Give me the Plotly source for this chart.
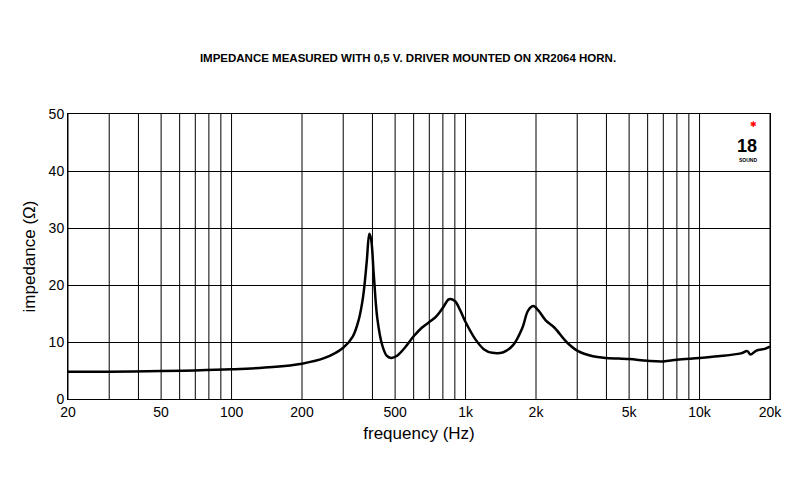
import plotly.graph_objects as go

freq = [20, 30, 50, 70, 100, 150, 200, 250, 300, 330, 350, 365, 378, 388, 395, 405, 420, 440, 460, 480,
        510, 550, 600, 650, 700, 750, 800, 850, 900, 950, 1000, 1100, 1200, 1300, 1450, 1600, 1750, 1850,
        1950, 2050, 2200, 2400, 2700, 3000, 3500, 4000, 5000, 6000, 7000, 8000, 10000, 12000, 15000,
        16000, 16500, 17500, 19000, 20000]
impedance = [4.8, 4.8, 4.9, 5.0, 5.2, 5.6, 6.2, 7.2, 9.0, 11, 14, 18, 24, 29, 28, 22, 14, 9.5, 7.6, 7.2,
             7.6, 9, 11, 12.5, 13.5, 14.5, 16, 17.5, 17.2, 15.5, 13.5, 10.5, 8.7, 8.1, 8.2, 9.5, 12.5, 15.5,
             16.3, 15.5, 13.8, 12.5, 10, 8.5, 7.5, 7.2, 7.0, 6.7, 6.6, 6.9, 7.2, 7.5, 8.0,
             8.4, 7.8, 8.5, 8.8, 9.2]

grid_freqs = [20, 30, 40, 50, 60, 70, 80, 90, 100, 200, 300, 400, 500, 600, 700, 800, 900,
              1000, 2000, 3000, 4000, 5000, 6000, 7000, 8000, 9000, 10000, 20000]
tick_vals = [20, 50, 100, 200, 500, 1000, 2000, 5000, 10000, 20000]
tick_text = ["20", "50", "100", "200", "500", "1k", "2k", "5k", "10k", "20k"]

fig = go.Figure()
fig.add_trace(go.Scatter(x=freq, y=impedance, mode="lines", line=dict(color="black", width=2.5, shape="spline"),
                         hoverinfo="skip"))

for f in grid_freqs:
    fig.add_shape(type="line", x0=f, x1=f, y0=0, y1=50, xref="x", yref="y",
                  line=dict(color="black", width=1), layer="below")

fig.update_layout(
    width=800, height=500,
    margin=dict(l=60, r=38, t=106, b=109),
    plot_bgcolor="white", paper_bgcolor="white",
    showlegend=False,
    font=dict(family="Liberation Sans, Arial", color="black", size=14),
    title=dict(text="<b>IMPEDANCE MEASURED WITH 0,5 V. DRIVER MOUNTED ON XR2064 HORN.</b>",
               x=0.5, xanchor="center", y=0.9, yanchor="middle", font=dict(size=11.5)),
    xaxis=dict(type="log", range=[1.30103, 4.30103], tickvals=tick_vals, ticktext=tick_text,
               showgrid=False, showline=True, linecolor="black", linewidth=1, mirror=True,
               title=dict(text="frequency (Hz)", standoff=8), ticks=""),
    yaxis=dict(range=[0, 50], dtick=10, showgrid=True, gridcolor="black", gridwidth=1,
               showline=True, linecolor="black", linewidth=1, mirror=True, zeroline=False,
               title=dict(text="impedance (Ω)", standoff=8), ticks=""),
)

fig.add_annotation(text="<b>18</b>", x=0.985, y=0.93, xref="paper", yref="paper", showarrow=False,
                   font=dict(size=18, family="Liberation Sans Narrow, Arial"))
fig.add_annotation(text="<b>SOUND</b>", x=0.985, y=0.855, xref="paper", yref="paper", showarrow=False,
                   font=dict(size=5))
fig.add_annotation(text="✱", x=0.985, y=0.985, xref="paper", yref="paper", showarrow=False,
                   font=dict(size=8, color="red"))

fig.write_html("out.html")
